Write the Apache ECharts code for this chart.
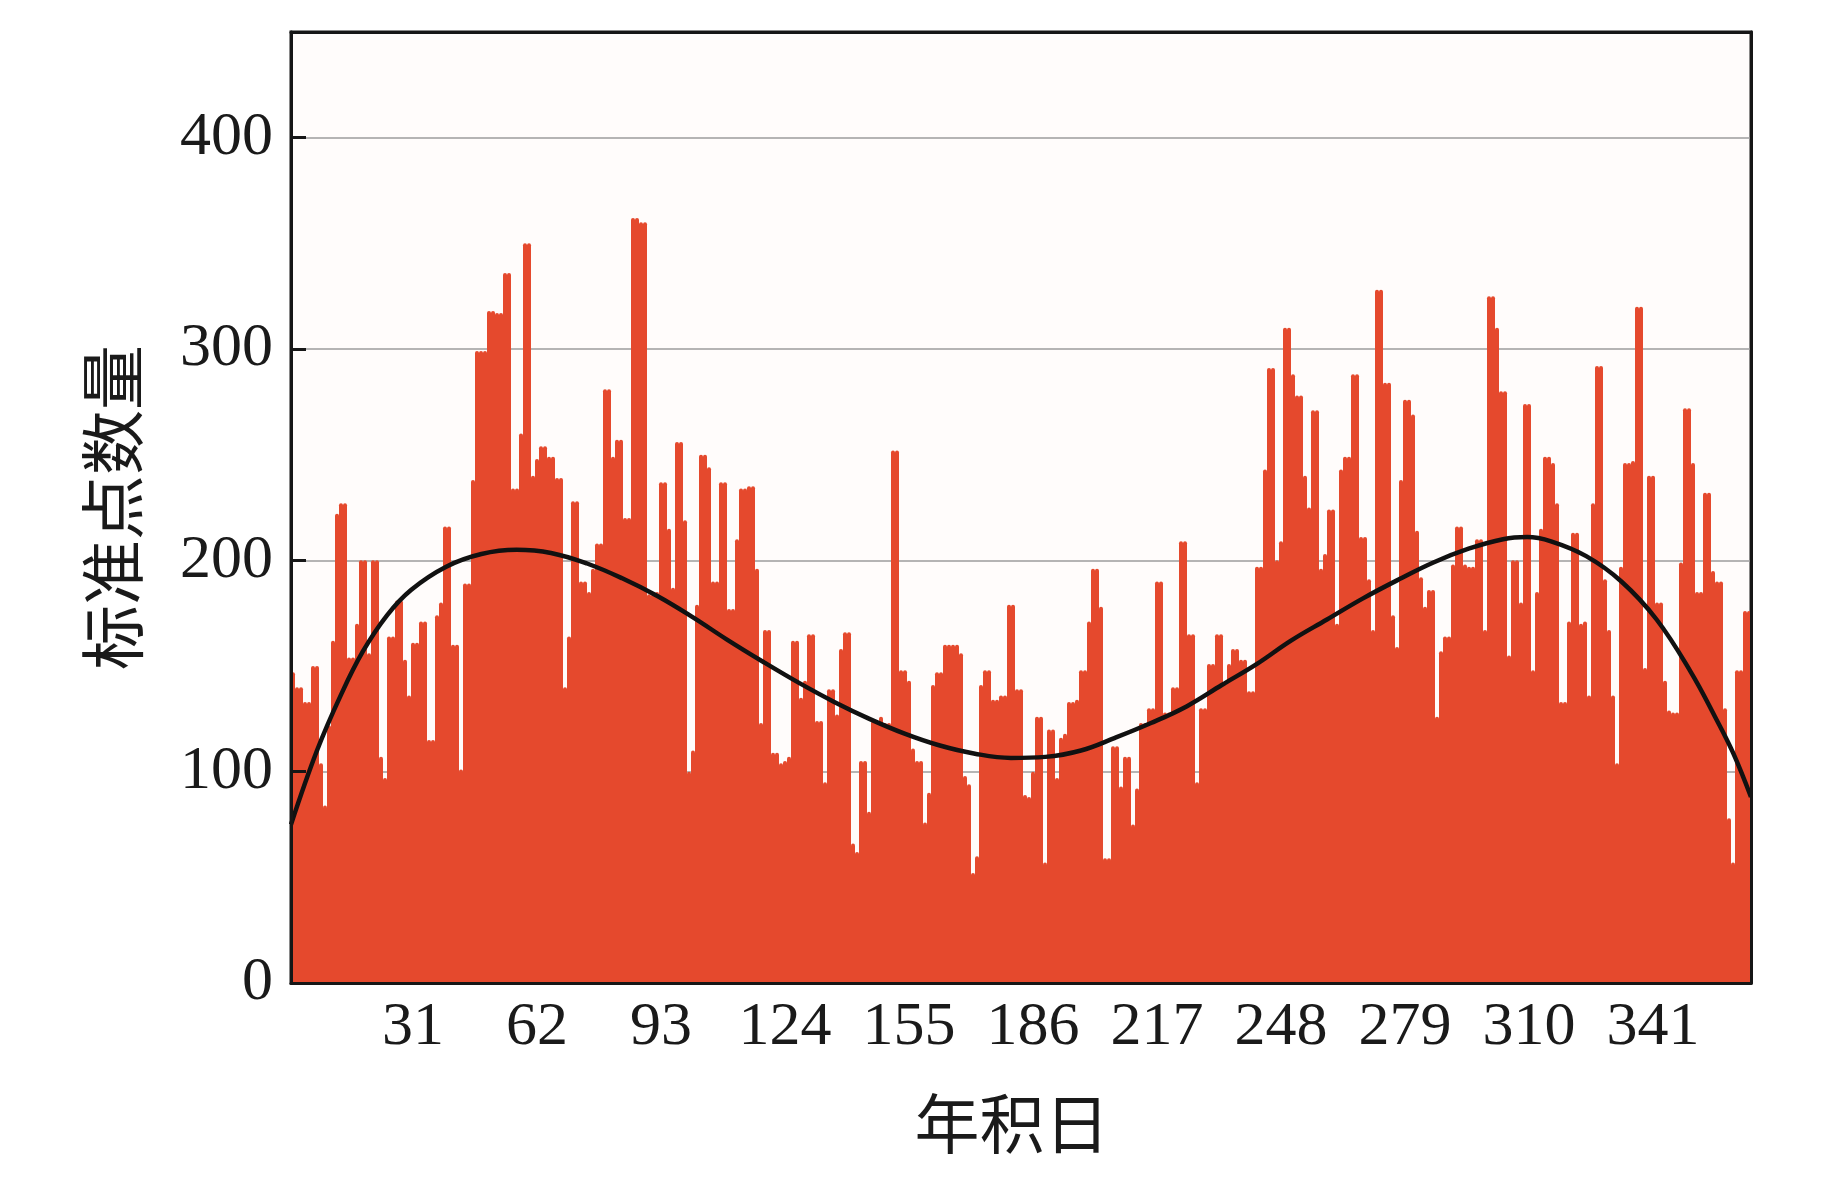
<!DOCTYPE html>
<html>
<head>
<meta charset="utf-8">
<script src="https://cdn.jsdelivr.net/npm/echarts@6/dist/echarts.min.js"></script>
<style>
  html, body { margin: 0; padding: 0; background: #fff; }
  #myChart { width: 1843px; height: 1181px; }
</style>
</head>
<body>
<div id="myChart"></div>
<script>
// ---------------- 데이터 ----------------

// 年积日 1..365
const days = [];
for (let i = 1; i <= 365; i++) days.push(String(i));

// x축 라벨 표시할 날
const tickDays = [31, 62, 93, 124, 155, 186, 217, 248, 279, 310, 341];

// 일별 标准点数量
const counts = [
  147, 140, 140, 133, 133, 150, 150, 104, 84, 122, 162, 222, 227, 227, 154, 154, 170, 200, 200, 156, 200, 200, 107, 97, 164, 164, 181, 181, 153, 136,
  161, 161, 171, 171, 115, 115, 174, 180, 216, 216, 160, 160, 101, 189, 189, 238, 299, 299, 299, 318, 318, 317, 317, 336, 336, 234, 234, 260, 350, 350, 240,
  248, 254, 254, 249, 249, 239, 239, 140, 164, 228, 228, 190, 190, 185, 196, 208, 208, 281, 281, 249, 257, 257, 220, 220, 362, 362, 360, 360, 184, 184,
  185, 237, 237, 215, 187, 256, 256, 219, 100, 110, 179, 250, 250, 244, 190, 190, 237, 237, 177, 177, 210, 234, 234, 235, 235, 196, 123, 167, 167, 109, 109,
  104, 105, 107, 162, 162, 135, 143, 165, 165, 124, 124, 95, 139, 139, 127, 158, 166, 166, 66, 62, 105, 105, 81, 124, 124, 126, 123, 123, 252, 252,
  148, 148, 143, 111, 105, 105, 76, 90, 141, 147, 147, 160, 160, 160, 160, 156, 98, 94, 52, 60, 141, 148, 148, 134, 134, 136, 136, 179, 179, 139, 139,
  89, 88, 100, 126, 126, 57, 120, 120, 97, 116, 118, 133, 133, 134, 148, 148, 171, 196, 196, 178, 59, 59, 112, 112, 93, 107, 107, 75, 92, 123,
  123, 130, 130, 190, 190, 128, 128, 140, 140, 209, 209, 165, 165, 95, 130, 130, 151, 151, 165, 165, 142, 151, 158, 158, 153, 153, 138, 138, 197, 197, 243,
  291, 291, 200, 209, 310, 310, 288, 278, 278, 240, 225, 271, 271, 196, 203, 224, 224, 170, 243, 249, 249, 288, 288, 211, 211, 191, 167, 328, 328, 284,
  284, 174, 159, 238, 276, 276, 269, 214, 192, 178, 186, 186, 126, 157, 164, 164, 198, 216, 216, 198, 197, 197, 210, 210, 167, 325, 325, 310, 280, 280, 155,
  200, 200, 180, 274, 274, 148, 185, 215, 249, 249, 246, 227, 133, 133, 171, 213, 213, 170, 171, 136, 227, 292, 292, 191, 167, 136, 104, 197, 246, 246,
  247, 320, 320, 149, 240, 240, 180, 180, 143, 129, 128, 128, 199, 272, 272, 246, 185, 185, 232, 232, 195, 190, 190, 130, 78, 57, 148, 148, 176, 176
];

// 추세 곡선 (그림에서 읽은 점)
const fitDay = [0, 6.5, 12.4, 18, 24, 30, 38.8, 47.6, 56.4, 65, 74, 82.8, 91.7, 100.5, 109, 118, 127, 135.8, 144.6, 153.4, 162, 171, 180, 188.6, 197.5, 206, 215, 224, 232.7, 241.5, 250, 259, 268, 277, 285.6, 294.4, 303, 309, 315, 323.8, 332.6, 341.4, 350, 356, 360.5, 365];
const fitValue = [75, 110, 136, 157, 174, 186, 197, 203, 205, 203.5, 198.5, 191.5, 183, 173, 162.5, 152, 142, 133, 125, 118, 112.5, 108.5, 106.5, 107, 110, 116, 123, 131, 141, 151, 162, 172, 182, 191, 199, 205.5, 210, 211, 209, 202, 190, 172, 147, 126, 109, 88];

// ---------------- 차트 ----------------

const fontNum = "Liberation Serif";
const fontCjk = "Noto Sans CJK SC";
const showTick = (index) => tickDays.includes(index + 1);

let chartDom = document.getElementById("myChart");
let myChart = echarts.init(chartDom);

let option = {
  animation: false,
  grid: {
    left: 291,
    right: 92,
    top: 32,
    bottom: 198,
    show: true,
    backgroundColor: "#FFFCFB",
    borderColor: "#161616",
    borderWidth: 3,
  },
  xAxis: [
    {
      type: "category",
      data: days,
      position: "bottom",
      z: 10,
      axisLine: { onZero: false, lineStyle: { color: "#161616", width: 3 } },
      axisTick: {
        inside: true,
        length: 12,
        alignWithLabel: true,
        interval: showTick,
        lineStyle: { color: "#161616", width: 3 },
      },
      axisLabel: {
        interval: showTick,
        margin: 14,
        color: "#1a1a1a",
        fontFamily: fontNum,
        fontSize: 62,
      },
      splitLine: { show: false },
      name: "年积日",
      nameLocation: "middle",
      nameGap: 108,
      nameTextStyle: {
        color: "#1a1a1a",
        fontFamily: fontCjk,
        fontSize: 65,
        padding: [0, 18, 0, 0],
      },
    },
    {
      type: "value", // 곡선용
      min: 0,
      max: 365,
      show: false,
    },
    {
      type: "category", // 윗 테두리
      data: days,
      position: "top",
      z: 10,
      axisLine: { onZero: false, lineStyle: { color: "#161616", width: 3 } },
      axisTick: { show: false },
      axisLabel: { show: false },
    },
  ],
  yAxis: [
    {
      type: "value",
      min: 0,
      max: 450,
      interval: 100,
      position: "left",
      axisLine: { show: false },
      axisTick: { show: false },
      axisLabel: {
        showMaxLabel: false,
        margin: 18,
        color: "#1a1a1a",
        fontFamily: fontNum,
        fontSize: 62,
      },
      splitLine: { lineStyle: { color: "#9c9c9c", width: 1.5 } },
      name: "标准点数量",
      nameLocation: "middle",
      nameGap: 146,
      nameTextStyle: {
        color: "#1a1a1a",
        fontFamily: fontCjk,
        fontSize: 65,
      },
    },
    {
      type: "value", // 왼쪽 축선 + 눈금 (막대 위)
      min: 0,
      max: 450,
      interval: 100,
      position: "left",
      offset: 0,
      z: 10,
      axisLine: { show: true, onZero: false, lineStyle: { color: "#161616", width: 3 } },
      axisTick: {
        inside: true,
        length: 15,
        lineStyle: { color: "#161616", width: 3 },
      },
      axisLabel: { show: false },
      splitLine: { show: false },
    },
    {
      type: "value", // 오른쪽 테두리
      min: 0,
      max: 450,
      interval: 100,
      position: "right",
      z: 10,
      axisLine: { show: true, onZero: false, lineStyle: { color: "#161616", width: 3 } },
      axisTick: { show: false },
      axisLabel: { show: false },
      splitLine: { show: false },
    },
  ],
  series: [
    {
      type: "bar",
      xAxisIndex: 0,
      yAxisIndex: 0,
      data: counts,
      barCategoryGap: "0%",
      itemStyle: { color: "#E5492D", borderRadius: [2, 2, 0, 0] },
    },
    {
      type: "line",
      xAxisIndex: 1,
      yAxisIndex: 0,
      data: fitDay.map((d, i) => [d, fitValue[i]]),
      smooth: 0.4,
      showSymbol: false,
      z: 5,
      lineStyle: { color: "#111", width: 4.5 },
    },
  ],
};
myChart.setOption(option);

window.onresize = function () {
  myChart.resize();
};
</script>
</body>
</html>
